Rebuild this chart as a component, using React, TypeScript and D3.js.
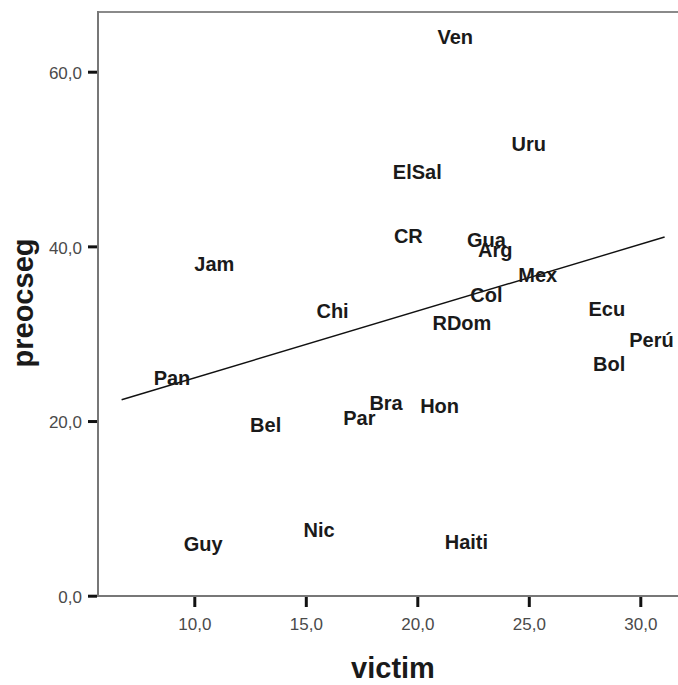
import React, { useEffect, useRef } from 'react';
import * as d3 from 'd3';

// country labels and their (victim, preocseg) positions
const countries = ['Ven', 'Uru', 'ElSal', 'CR', 'Gua', 'Arg', 'Mex', 'Col', 'RDom', 'Ecu', 'Chi', 'Jam', 'Pan', 'Bel', 'Guy', 'Nic', 'Par', 'Bra', 'Hon', 'Haiti', 'Bol', 'Perú'];
const victim = [21.7, 25.0, 20.0, 19.6, 23.1, 23.5, 25.4, 23.1, 22.0, 28.5, 16.2, 10.9, 9.0, 13.2, 10.4, 15.6, 17.4, 18.6, 21.0, 22.2, 28.6, 30.5];
const preocseg = [64.0, 51.8, 48.5, 41.2, 40.8, 39.6, 36.7, 34.5, 31.2, 32.9, 32.6, 38.0, 24.9, 19.6, 6.0, 7.6, 20.4, 22.1, 21.8, 6.2, 26.5, 29.3];

// fit line end points
const fitX = [6.74, 31.09];
const fitY = [22.44, 41.07];

const xTicks = [10, 15, 20, 25, 30];
const yTicks = [0, 20, 40, 60];

const App: React.FC = () => {
  const ref = useRef<SVGSVGElement>(null);

  useEffect(() => {
    const svg = d3.select(ref.current);
    svg.selectAll('*').remove();

    const x = d3.scaleLinear().domain([10, 30]).range([194.3, 640.3]);
    const y = d3.scaleLinear().domain([0, 60]).range([595.7, 71.7]);
    const fmt = (v: number) => v.toFixed(1).replace('.', ',');

    const left = 98;
    const top = 12;
    const bottom = 596;

    // frame
    svg.append('line').attr('x1', left).attr('x2', 700).attr('y1', top).attr('y2', top)
      .attr('stroke', '#8a8a8a').attr('stroke-width', 2);
    svg.append('line').attr('x1', left).attr('x2', left).attr('y1', top - 1).attr('y2', bottom + 1)
      .attr('stroke', '#777').attr('stroke-width', 2);
    svg.append('line').attr('x1', left - 1).attr('x2', 700).attr('y1', bottom).attr('y2', bottom)
      .attr('stroke', '#777').attr('stroke-width', 2);

    // y axis
    const yAxis = svg.append('g')
      .attr('transform', `translate(${left - 1},0)`)
      .call(d3.axisLeft(y).tickValues(yTicks).tickFormat(fmt).tickSize(9).tickPadding(6));
    yAxis.select('.domain').remove();
    yAxis.selectAll('line').attr('stroke', '#111').attr('stroke-width', 3);
    yAxis.selectAll('text')
      .attr('font-family', 'Liberation Sans, Arial, sans-serif')
      .attr('font-size', 17).attr('fill', '#4a4a4a').attr('dy', '0.4em');

    // x axis
    const xAxis = svg.append('g')
      .attr('transform', `translate(0,${bottom + 1})`)
      .call(d3.axisBottom(x).tickValues(xTicks).tickFormat(fmt).tickSize(10).tickPadding(11));
    xAxis.select('.domain').remove();
    xAxis.selectAll('line').attr('stroke', '#111').attr('stroke-width', 3);
    xAxis.selectAll('text')
      .attr('font-family', 'Liberation Sans, Arial, sans-serif')
      .attr('font-size', 17).attr('fill', '#4a4a4a');

    // fit line
    const line = d3.line<number>().x((d) => x(d)).y((_, i) => y(fitY[i]));
    svg.append('path').datum(fitX).attr('d', line)
      .attr('fill', 'none').attr('stroke', '#111').attr('stroke-width', 1.4);

    // labels
    svg.append('g').selectAll('text')
      .data(countries)
      .enter().append('text')
      .attr('x', (_, i) => x(victim[i]))
      .attr('y', (_, i) => y(preocseg[i]))
      .attr('dy', '0.36em')
      .attr('text-anchor', 'middle')
      .attr('font-family', 'Liberation Sans, Arial, sans-serif')
      .attr('font-weight', 'bold')
      .attr('font-size', 20)
      .attr('fill', '#1a1a1a')
      .text((d) => d);

    // axis titles
    svg.append('text')
      .attr('x', 393).attr('y', 678)
      .attr('text-anchor', 'middle')
      .attr('font-family', 'Liberation Sans, Arial, sans-serif')
      .attr('font-weight', 'bold').attr('font-size', 29).attr('fill', '#1a1a1a')
      .text('victim');
    svg.append('text')
      .attr('transform', 'translate(33,303) rotate(-90)')
      .attr('text-anchor', 'middle')
      .attr('font-family', 'Liberation Sans, Arial, sans-serif')
      .attr('font-weight', 'bold').attr('font-size', 29).attr('fill', '#1a1a1a')
      .text('preocseg');
  }, []);

  return (
    <svg ref={ref} width={678} height={685}
      style={{ position: 'fixed', left: 0, top: 0, background: '#fff' }} />
  );
};

export default App;
